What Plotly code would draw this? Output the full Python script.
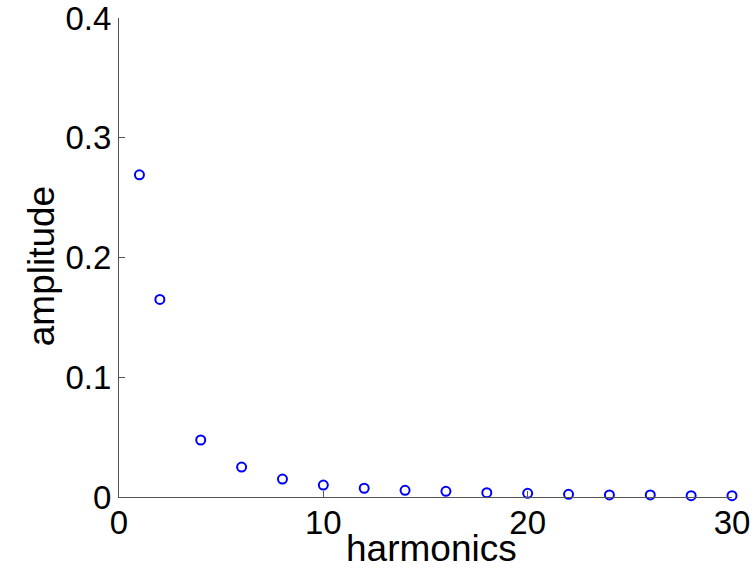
import plotly.graph_objects as go

harmonics = [1, 2, 4, 6, 8, 10, 12, 14, 16, 18, 20, 22, 24, 26, 28, 30]
amplitude = [0.269, 0.165, 0.0476, 0.025, 0.015, 0.010, 0.0073, 0.0056,
             0.0047, 0.0036, 0.0031, 0.0022, 0.0017, 0.0017, 0.0011, 0.0011]

x_ticks = [0, 10, 20, 30]
x_tick_labels = ["0", "10", "20", "30"]
y_ticks = [0, 0.1, 0.2, 0.3, 0.4]
y_tick_labels = ["0", "0.1", "0.2", "0.3", "0.4"]

font = "Liberation Sans, Arial, sans-serif"

fig = go.Figure()
fig.add_trace(go.Scatter(
    x=harmonics, y=amplitude, mode="markers",
    marker=dict(symbol="circle-open", size=9, color="#0000ff",
                line=dict(width=2, color="#0000ff")),
    cliponaxis=False, showlegend=False,
))

axis_common = dict(
    showgrid=False, zeroline=False, showline=True, linecolor="#555555",
    linewidth=1, ticks="inside", ticklen=6, tickcolor="#555555",
    tickfont=dict(family=font, size=33, color="black"),
    automargin=False, ticklabeloverflow="allow",
)
fig.update_xaxes(range=[0, 30], tickvals=x_ticks, ticktext=x_tick_labels,
                 ticklabelstandoff=-4, **axis_common)
fig.update_yaxes(range=[0, 0.4], tickvals=y_ticks, ticktext=y_tick_labels,
                 **axis_common)

fig.update_layout(
    width=756, height=568,
    margin=dict(l=119, r=24, t=18, b=71),
    plot_bgcolor="white", paper_bgcolor="white",
    font=dict(family=font, size=33, color="black"),
    annotations=[
        dict(text="harmonics", xref="paper", yref="paper", x=0.51, y=-0.107,
             xanchor="center", yanchor="middle", showarrow=False,
             font=dict(family=font, size=37, color="black")),
        dict(text="amplitude", xref="paper", yref="paper", x=-0.127, y=0.482,
             xanchor="center", yanchor="middle", showarrow=False, textangle=-90,
             font=dict(family=font, size=37, color="black")),
    ],
)

fig.write_html("out.html",
               config={"displayModeBar": False},
               post_script="document.body.style.margin='0';"
                           "document.body.style.overflow='hidden';")
